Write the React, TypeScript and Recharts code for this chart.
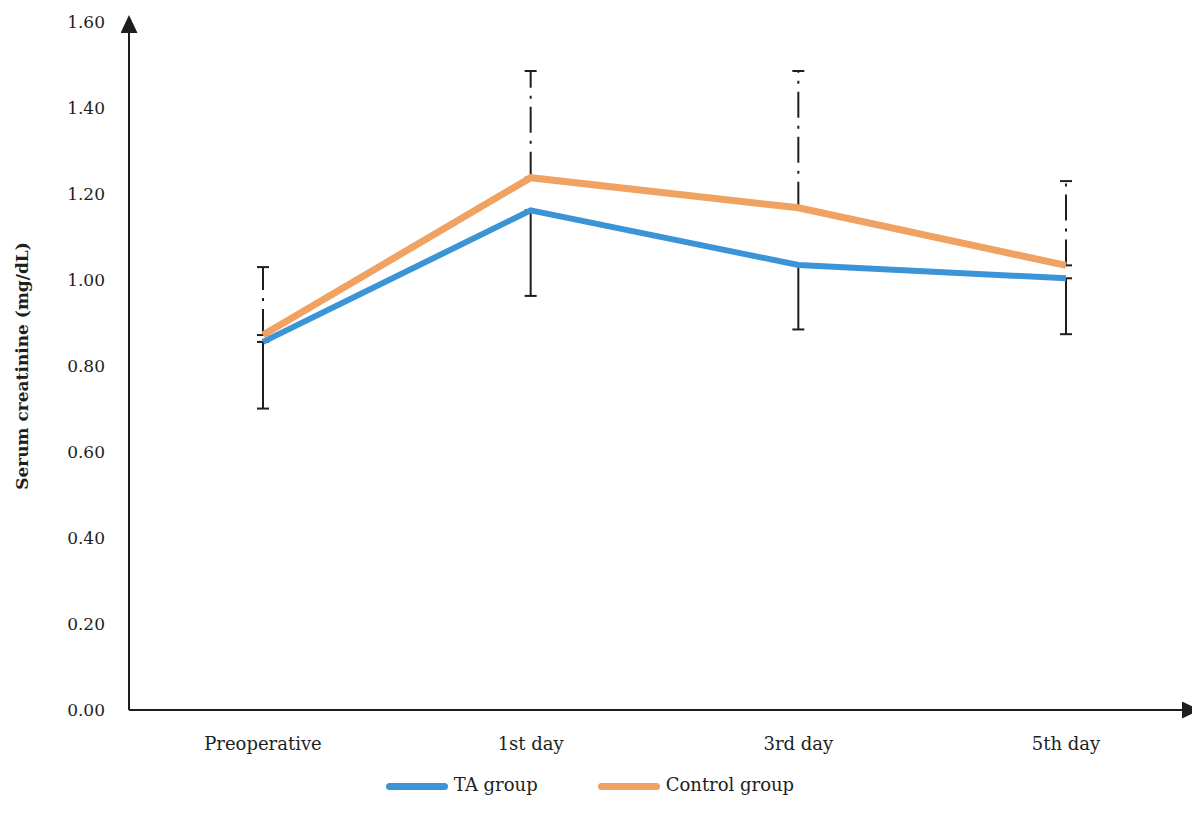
import { CartesianGrid, ErrorBar, Legend, Line, LineChart, XAxis, YAxis } from 'recharts';

const categories = ['Preoperative', '1st day', '3rd day', '5th day'];
const taMean = [0.856, 1.162, 1.035, 1.004];
const taSd = [0.155, 0.199, 0.15, 0.13];
const controlMean = [0.872, 1.238, 1.168, 1.034];
const controlSd = [0.158, 0.248, 0.318, 0.196];
const yTicks = [0, 0.2, 0.4, 0.6, 0.8, 1.0, 1.2, 1.4, 1.6];

const BLUE = '#3b94d6';
const ORANGE = '#f0a262';
const INK = '#1e1e1e';
const FONT = "'DejaVu Serif', 'Liberation Serif', serif";

const data = categories.map((name, i) => ({
  name,
  ta: taMean[i],
  control: controlMean[i],
  taErr: [taSd[i], 0],
  controlErr: [0, controlSd[i]],
}));

const legendItems = [
  { label: 'TA group', color: BLUE },
  { label: 'Control group', color: ORANGE },
];

function LegendContent() {
  return (
    <div style={{ display: 'flex', justifyContent: 'center', gap: 60, fontFamily: FONT, marginLeft: -12 }}>
      {legendItems.map((item) => (
        <div key={item.label} style={{ display: 'flex', alignItems: 'center', gap: 6 }}>
          <span
            style={{
              display: 'inline-block',
              width: 62,
              height: 7,
              borderRadius: 4,
              background: item.color,
              marginTop: 4,
            }}
          />
          <span style={{ fontSize: 18, color: INK }}>{item.label}</span>
        </div>
      ))}
    </div>
  );
}

export default function App() {
  return (
    <div
      style={{
        position: 'absolute',
        left: 0,
        top: 0,
        width: 1192,
        height: 827,
        overflow: 'hidden',
        background: '#fff',
      }}
    >
      <LineChart
        width={1200}
        height={827}
        data={data}
        margin={{ top: 22, right: 0, left: 0, bottom: 77 }}
      >
        <defs>
          <marker
            id="arrowUp"
            viewBox="0 0 18 17"
            markerWidth={18}
            markerHeight={17}
            refX={11}
            refY={8.5}
            markerUnits="userSpaceOnUse"
            orient="auto-start-reverse"
          >
            <path d="M0,0 L18,8.5 L0,17 z" fill={INK} />
          </marker>
          <marker
            id="arrowRight"
            viewBox="0 0 18 17"
            markerWidth={18}
            markerHeight={17}
            refX={18}
            refY={8.5}
            markerUnits="userSpaceOnUse"
            orient="auto"
          >
            <path d="M0,0 L18,8.5 L0,17 z" fill={INK} />
          </marker>
        </defs>
        <CartesianGrid stroke="none" />
        <XAxis
          dataKey="name"
          height={40}
          padding={{ left: 134, right: 134 }}
          tickLine={false}
          tickMargin={21}
          axisLine={{ stroke: INK, strokeWidth: 2, markerEnd: 'url(#arrowRight)' }}
          tick={{ fontSize: 18, fill: INK, fontFamily: FONT }}
        />
        <YAxis
          width={129}
          domain={[0, 1.6]}
          ticks={yTicks}
          interval={0}
          tickLine={false}
          tickMargin={18}
          tickFormatter={(v: number) => v.toFixed(2)}
          axisLine={{ stroke: INK, strokeWidth: 2, markerStart: 'url(#arrowUp)' }}
          tick={{ fontSize: 17, fill: INK, fontFamily: FONT }}
          label={{
            value: 'Serum creatinine (mg/dL)',
            angle: -90,
            position: 'insideLeft',
            offset: 22,
            style: { textAnchor: 'middle', fontFamily: FONT, fontWeight: 700, fontSize: 17, fill: INK },
          }}
        />
        <Legend
          verticalAlign="middle"
          align="center"
          wrapperStyle={{ top: 774, left: 0, width: 1192 }}
          content={<LegendContent />}
        />
        <Line
          dataKey="ta"
          stroke="none"
          dot={false}
          activeDot={false}
          legendType="none"
          isAnimationActive={false}
        >
          <ErrorBar dataKey="taErr" direction="y" width={6} stroke={INK} strokeWidth={2} />
        </Line>
        <Line
          dataKey="control"
          stroke="none"
          dot={false}
          activeDot={false}
          legendType="none"
          isAnimationActive={false}
        >
          <ErrorBar
            dataKey="controlErr"
            direction="y"
            width={6}
            stroke={INK}
            strokeWidth={2}
            strokeDasharray="26 8 3 8"
          />
        </Line>
        <Line
          type="linear"
          dataKey="ta"
          stroke={BLUE}
          strokeWidth={6}
          dot={false}
          activeDot={false}
          isAnimationActive={false}
        />
        <Line
          type="linear"
          dataKey="control"
          stroke={ORANGE}
          strokeWidth={7}
          dot={false}
          activeDot={false}
          isAnimationActive={false}
        />
      </LineChart>
    </div>
  );
}
